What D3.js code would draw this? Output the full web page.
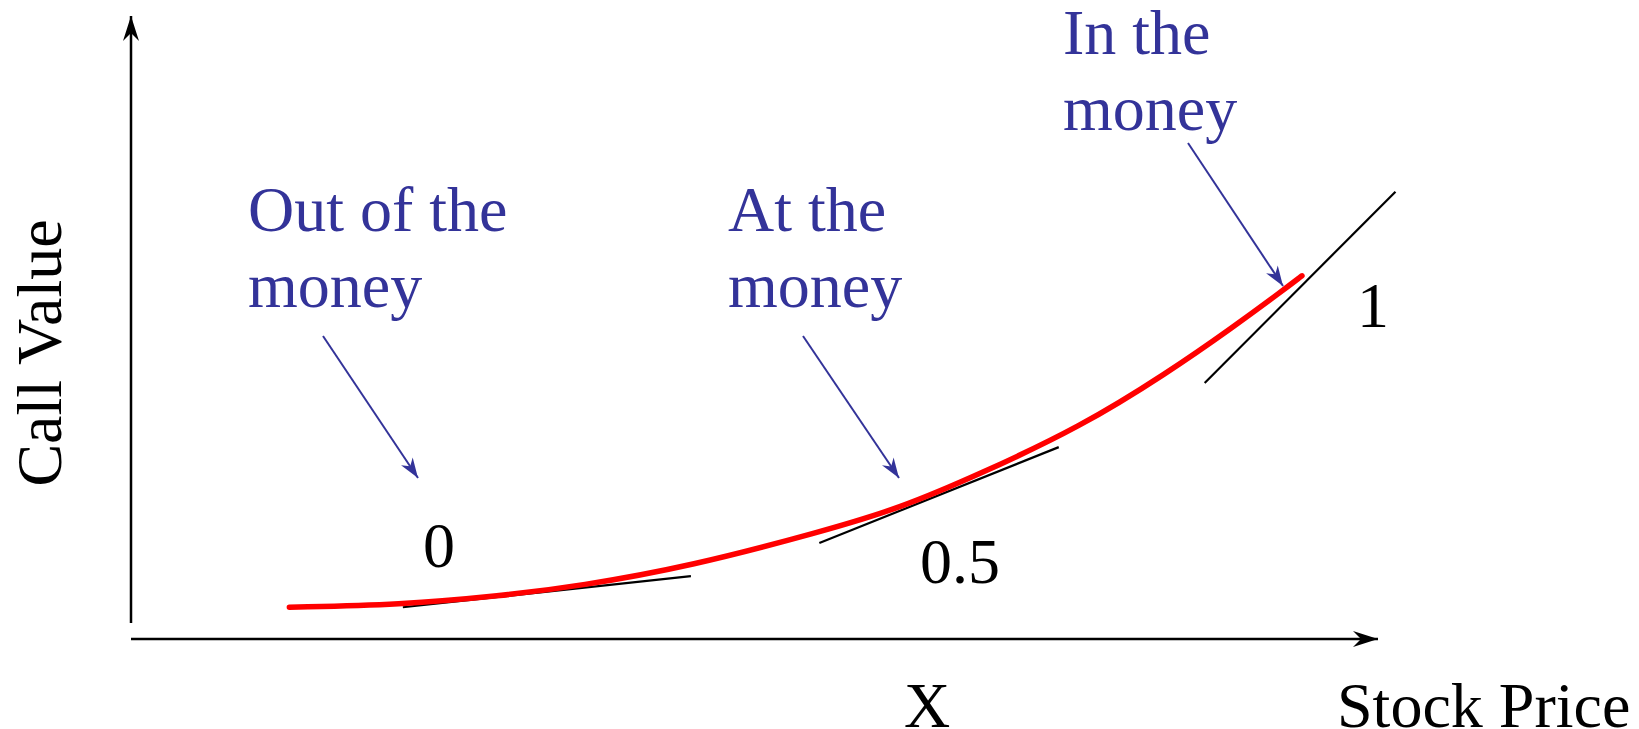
<!DOCTYPE html>
<html>
<head>
<meta charset="utf-8">
<script src="https://cdn.jsdelivr.net/npm/d3@7"></script>
<style>
	html, body { margin: 0; padding: 0; background: #fff; }
	svg { display: block; }
	text { font-family: "Liberation Serif", "Times New Roman", serif; }
</style>
</head>
<body>
<div id="chart"></div>
<script>
// Call value against stock price (arbitrary units, 0-100 on both axes)
var stockPrice = [12.7, 21.6, 29.6, 36.0, 44.9, 55.3, 61.7, 68.1, 76.1, 83.1, 88.4, 92.4, 93.9];
var callValue  = [5.1, 5.5, 6.9, 8.5, 11.7, 17.2, 21.0, 26.5, 34.0, 42.7, 50.1, 56.0, 58.3];

// Tangent segments (delta) at three points on the curve
var deltaLabels = ['0', '0.5', '1'];
var tangentX1 = [21.8, 55.2, 86.1];
var tangentY1 = [5.1, 15.4, 41.1];
var tangentX2 = [44.9, 74.4, 101.4];
var tangentY2 = [10.1, 30.8, 71.8];

var moneyLabels = [['Out of the', 'money'], ['At the', 'money'], ['In the', 'money']];

var axisLabelX = 'Stock Price',
	axisLabelY = 'Call Value',
	strikeLabel = 'X';

var chartSettings = {
	width: 1639,
	height: 729,
	left: 131,
	right: 1378,
	top: 16,
	bottom: 639,
	fontSize: 64,
	blue: '#333399'
};

var s = chartSettings;

var svg = d3.select('#chart')
	.append('svg')
	.attr('width', s.width)
	.attr('height', s.height);

var x = d3.scaleLinear().domain([0, 100]).range([s.left, s.right]),
	y = d3.scaleLinear().domain([0, 100]).range([s.bottom, s.top]);

var defs = svg.append('defs');

defs.append('marker')
	.attr('id', 'axis-head')
	.attr('markerUnits', 'userSpaceOnUse')
	.attr('viewBox', '-26 -9 27 18')
	.attr('refX', 0).attr('refY', 0)
	.attr('markerWidth', 27).attr('markerHeight', 18)
	.attr('orient', 'auto')
	.append('path')
	.attr('d', 'M0,0 L-25,-8 L-17,0 L-25,8 Z')
	.attr('fill', '#000');

defs.append('marker')
	.attr('id', 'note-head')
	.attr('markerUnits', 'userSpaceOnUse')
	.attr('viewBox', '-21 -8 22 16')
	.attr('refX', 0).attr('refY', 0)
	.attr('markerWidth', 22).attr('markerHeight', 16)
	.attr('orient', 'auto')
	.append('path')
	.attr('d', 'M0,0 L-20,-7 L-14,0 L-20,7 Z')
	.attr('fill', s.blue);

// Axes
svg.append('line')
	.attr('x1', x(0)).attr('y1', y(0))
	.attr('x2', x(100)).attr('y2', y(0))
	.attr('stroke', '#000')
	.attr('stroke-width', 2.5)
	.attr('marker-end', 'url(#axis-head)');

svg.append('line')
	.attr('x1', x(0)).attr('y1', y(0) - 16)
	.attr('x2', x(0)).attr('y2', y(100))
	.attr('stroke', '#000')
	.attr('stroke-width', 2.5)
	.attr('marker-end', 'url(#axis-head)');

// Tangent lines
var tangents = deltaLabels.map(function(d, i) {
	return { label: d, x1: tangentX1[i], y1: tangentY1[i], x2: tangentX2[i], y2: tangentY2[i] };
});

svg.selectAll('line.tangent')
	.data(tangents)
	.enter()
	.append('line')
	.attr('class', 'tangent')
	.attr('x1', function(d) { return x(d.x1); })
	.attr('y1', function(d) { return y(d.y1); })
	.attr('x2', function(d) { return x(d.x2); })
	.attr('y2', function(d) { return y(d.y2); })
	.attr('stroke', '#000')
	.attr('stroke-width', 2.2);

// Call value curve
var curvePoints = stockPrice.map(function(d, i) { return [d, callValue[i]]; });

svg.append('path')
	.datum(curvePoints)
	.attr('fill', 'none')
	.attr('stroke', '#ff0000')
	.attr('stroke-width', 5.5)
	.attr('stroke-linecap', 'round')
	.attr('d', d3.line()
		.x(function(d) { return x(d[0]); })
		.y(function(d) { return y(d[1]); })
		.curve(d3.curveBasis));

// Delta labels, placed next to their tangents
var deltaPos = [[439, 567, 'middle'], [920, 583, 'start'], [1357, 327, 'start']];

svg.selectAll('text.delta')
	.data(tangents)
	.enter()
	.append('text')
	.attr('class', 'delta')
	.attr('x', function(d, i) { return deltaPos[i][0]; })
	.attr('y', function(d, i) { return deltaPos[i][1]; })
	.attr('text-anchor', function(d, i) { return deltaPos[i][2]; })
	.attr('font-size', s.fontSize)
	.attr('fill', '#000')
	.text(function(d) { return d.label; });

// Moneyness notes with arrows
var notePos = [[248, 231], [728, 231], [1063, 54]];
var noteArrow = [[323, 336, 418, 478], [803, 336, 899, 478], [1188, 143, 1283, 286]];

moneyLabels.forEach(function(lines, i) {
	var note = svg.append('g');

	note.append('text')
		.attr('x', notePos[i][0])
		.attr('y', notePos[i][1])
		.attr('font-size', s.fontSize)
		.attr('fill', s.blue)
		.selectAll('tspan')
		.data(lines)
		.enter()
		.append('tspan')
		.attr('x', notePos[i][0])
		.attr('dy', function(d, j) { return j ? 76 : 0; })
		.text(function(d) { return d; });

	note.append('line')
		.attr('x1', noteArrow[i][0]).attr('y1', noteArrow[i][1])
		.attr('x2', noteArrow[i][2]).attr('y2', noteArrow[i][3])
		.attr('stroke', s.blue)
		.attr('stroke-width', 2)
		.attr('marker-end', 'url(#note-head)');
});

// Axis titles
svg.append('text')
	.attr('transform', 'translate(61,353) rotate(-90)')
	.attr('text-anchor', 'middle')
	.attr('font-size', s.fontSize)
	.text(axisLabelY);

svg.append('text')
	.attr('x', 904)
	.attr('y', 727)
	.attr('font-size', s.fontSize)
	.text(strikeLabel);

svg.append('text')
	.attr('x', 1337)
	.attr('y', 727)
	.attr('font-size', s.fontSize)
	.text(axisLabelX);
</script>
</body>
</html>
